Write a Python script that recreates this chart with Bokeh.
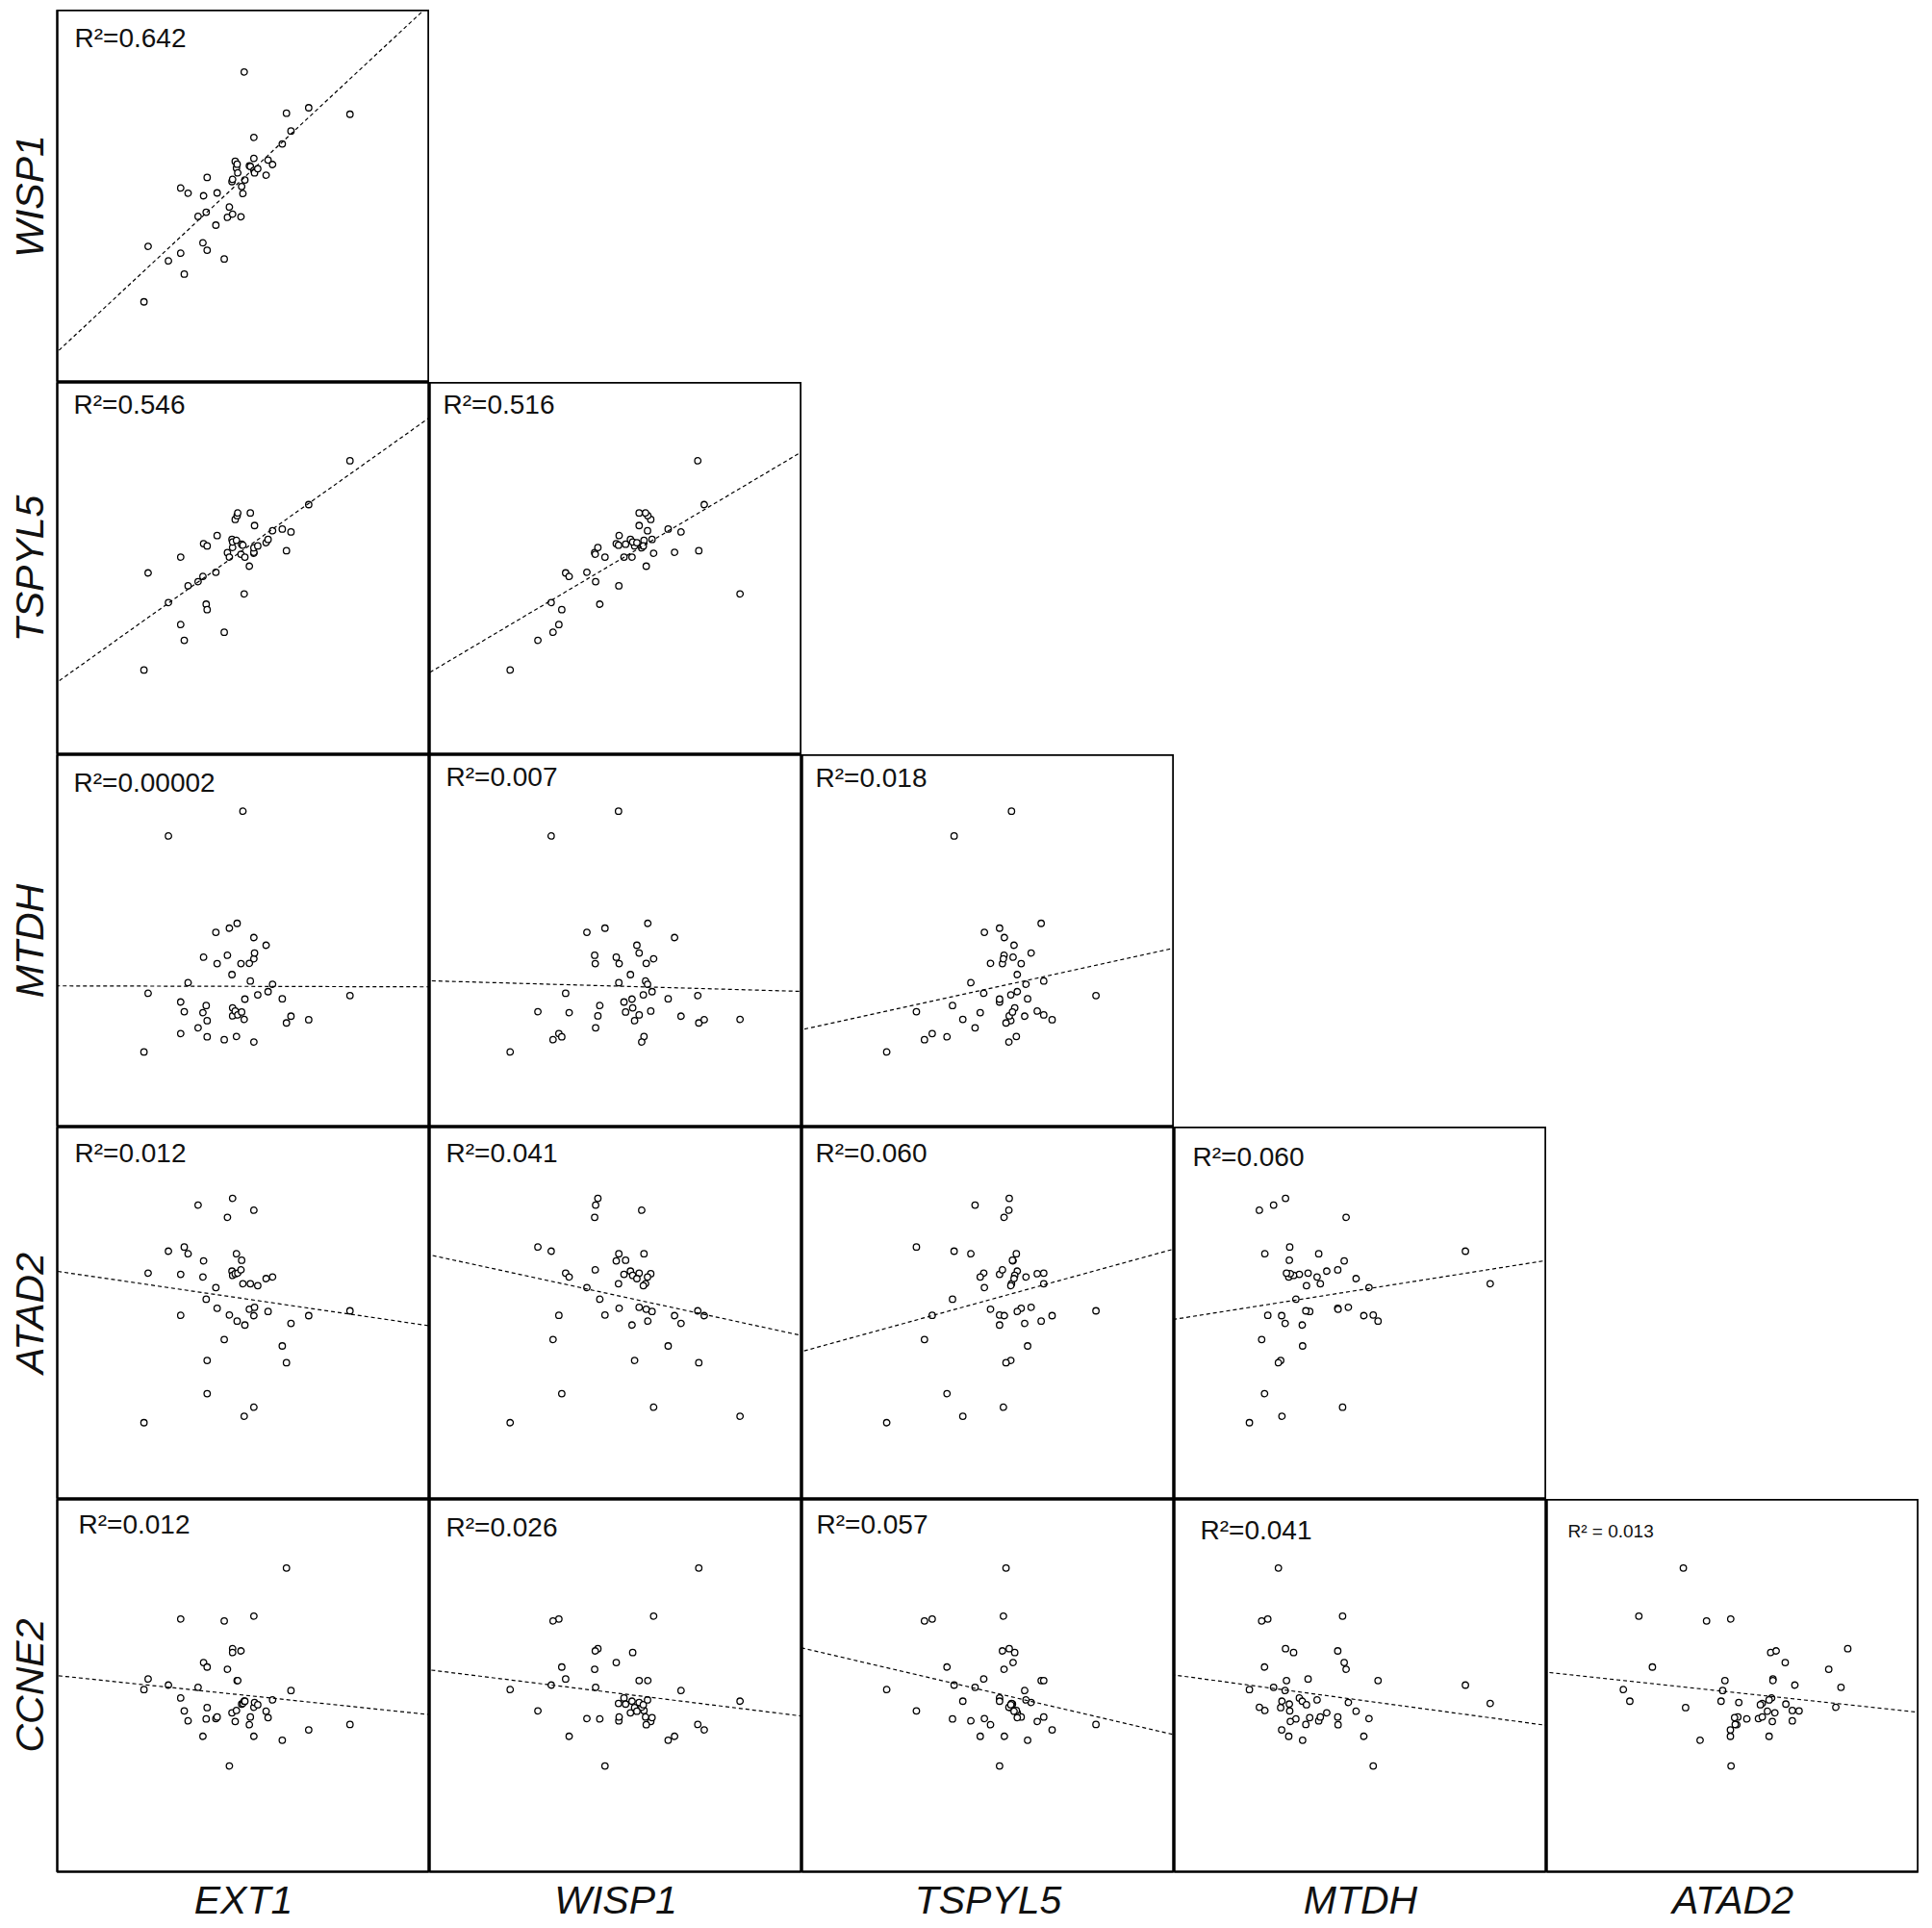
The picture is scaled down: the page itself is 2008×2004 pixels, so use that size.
import numpy as np
from bokeh.plotting import figure
from bokeh.layouts import gridplot, column, row
from bokeh.models import Range1d, Slope, Label, LinearAxis, FixedTicker, Spacer
from bokeh.embed import file_html
from bokeh.resources import INLINE

genes = ["EXT1", "WISP1", "TSPYL5", "MTDH", "ATAD2", "CCNE2"]

EXT1 = [2.69, 2.82, 3.45, 3.83, 3.83, 3.94, 4.06, 4.37, 4.52, 4.54, 4.62, 4.65, 4.65, 4.92, 4.96,
        5.18, 5.28, 5.34, 5.44, 5.42, 5.44, 5.52, 5.56, 5.58, 5.60, 5.70, 5.72, 5.76, 5.80, 5.82,
        6.10, 6.10, 5.96, 5.99, 6.10, 6.12, 6.22, 6.48, 6.54, 6.68, 6.98, 7.11, 7.25, 7.80, 9.08]
WISP1 = [2.50, 4.22, 3.77, 6.03, 4.01, 3.36, 5.87, 5.15, 4.33, 5.79, 5.28, 6.36, 4.10, 4.88, 5.88,
         3.83, 5.12, 5.44, 5.22, 6.23, 6.30, 6.86, 6.65, 6.77, 6.50, 5.14, 6.08, 5.86, 9.63, 6.28,
         6.95, 7.60, 6.72, 6.70, 6.58, 6.50, 6.63, 6.43, 6.90, 6.76, 7.40, 8.35, 7.80, 8.52, 8.32]
TSPYL5 = [2.63, 5.64, 4.72, 6.13, 4.04, 3.55, 5.24, 5.37, 5.53, 6.55, 4.67, 6.48, 4.50, 5.66, 6.80,
          3.80, 6.27, 6.13, 6.43, 6.68, 6.60, 7.30, 6.65, 7.42, 7.50, 6.22, 6.53, 6.50, 4.99, 6.13,
          6.25, 6.28, 5.85, 7.50, 6.42, 7.11, 6.48, 6.58, 6.68, 6.95, 7.00, 6.33, 6.91, 7.76, 9.12]
MTDH = [2.33, 4.15, 9.03, 3.88, 2.90, 3.58, 4.48, 3.08, 3.55, 5.27, 3.77, 3.30, 2.80, 6.04, 5.07,
        2.71, 5.33, 6.17, 3.45, 4.73, 3.70, 3.60, 2.81, 6.32, 3.48, 5.07, 3.57, 9.80, 3.34, 3.97,
        5.22, 5.88, 5.08, 4.53, 2.64, 5.40, 4.10, 5.64, 4.20, 4.43, 3.98, 3.23, 3.44, 3.33, 4.08]
ATAD2 = [2.38, 7.02, 7.70, 6.98, 5.71, 7.83, 7.62, 9.13, 6.90, 7.40, 6.21, 4.31, 3.28, 6.57, 5.93,
         4.96, 8.75, 5.72, 9.34, 7.08, 6.95, 7.00, 7.62, 5.53, 7.02, 7.12, 7.42, 6.69, 2.58, 5.41,
         2.86, 5.70, 5.90, 6.69, 8.97, 5.96, 6.63, 6.85, 5.83, 6.90, 4.76, 4.24, 5.46, 5.70, 5.85]
CCNE2 = [5.65, 5.98, 5.79, 5.39, 7.84, 4.99, 4.68, 5.72, 4.20, 6.49, 4.74, 5.09, 6.35, 4.75, 4.80,
         7.78, 6.28, 3.28, 6.92, 4.93, 6.80, 4.66, 5.00, 5.93, 5.93, 6.85, 5.20, 5.22, 5.29, 5.29,
         7.93, 4.20, 4.56, 4.80, 5.10, 5.25, 5.18, 4.98, 4.78, 5.33, 4.08, 9.42, 5.62, 4.40, 4.57]

r2_text = {
    (1, 0): "R\u00b2=0.642",
    (2, 0): "R\u00b2=0.546", (2, 1): "R\u00b2=0.516",
    (3, 0): "R\u00b2=0.00002", (3, 1): "R\u00b2=0.007", (3, 2): "R\u00b2=0.018",
    (4, 0): "R\u00b2=0.012", (4, 1): "R\u00b2=0.041", (4, 2): "R\u00b2=0.060", (4, 3): "R\u00b2=0.060",
    (5, 0): "R\u00b2=0.012", (5, 1): "R\u00b2=0.026", (5, 2): "R\u00b2=0.057", (5, 3): "R\u00b2=0.041",
    (5, 4): "R\u00b2 = 0.013",
}

data = {"EXT1": EXT1, "WISP1": WISP1, "TSPYL5": TSPYL5, "MTDH": MTDH, "ATAD2": ATAD2, "CCNE2": CCNE2}

# label placement (pixels from panel's left / top edge)
lab_dx = {(1, 0): 18, (2, 0): 17, (2, 1): 14, (3, 0): 17, (3, 1): 17, (3, 2): 14,
          (4, 0): 18, (4, 1): 17, (4, 2): 14, (4, 3): 19,
          (5, 0): 22, (5, 1): 17, (5, 2): 15, (5, 3): 27, (5, 4): 22}
lab_dy = {(1, 0): 29, (2, 0): 23, (2, 1): 23, (3, 0): 29, (3, 1): 23, (3, 2): 24,
          (4, 0): 27, (4, 1): 27, (4, 2): 27, (4, 3): 31,
          (5, 0): 26, (5, 1): 29, (5, 2): 26, (5, 3): 32, (5, 4): 33}

PANEL = 387
LO, HI = 0.0, 11.55
LABEL_FONT = "Liberation Sans"


def label_axis(text):
    return LinearAxis(ticker=FixedTicker(ticks=[]), axis_label=text,
                      axis_line_color=None, major_tick_line_color=None,
                      minor_tick_line_color=None, major_label_text_font_size="0px",
                      major_tick_out=0, major_tick_in=0, minor_tick_out=0, minor_tick_in=0,
                      major_label_standoff=0, axis_label_standoff=6,
                      axis_label_text_font=LABEL_FONT, axis_label_text_font_style="italic",
                      axis_label_text_font_size="41px", axis_label_text_color="#111111")


def make_panel(i, j):
    left = (j == 0)
    bottom = (i == 5)
    p = figure(frame_width=PANEL, frame_height=PANEL,
               x_range=Range1d(LO, HI), y_range=Range1d(LO, HI),
               x_axis_location=None, y_axis_location=None,
               toolbar_location=None, output_backend="svg",
               min_border_left=0, min_border_right=0,
               min_border_top=0, min_border_bottom=0,
               background_fill_color="white", border_fill_color="white")
    p.grid.grid_line_color = None
    p.outline_line_color = "black"
    p.outline_line_width = 2.5
    xv = np.array(data[genes[j]])
    yv = np.array(data[genes[i]])
    p.scatter(xv, yv, marker="circle", size=6.5, fill_color="white",
              line_color="black", line_width=1.3)
    m, b = np.polyfit(xv, yv, 1)
    p.add_layout(Slope(gradient=m, y_intercept=b, line_color="black",
                       line_dash="4 3", line_width=1.2))
    small = (i, j) == (5, 4)
    p.add_layout(Label(x=lab_dx[(i, j)], y=PANEL - lab_dy[(i, j)],
                       x_units="screen", y_units="screen",
                       text=r2_text[(i, j)], text_font="Liberation Sans",
                       text_font_size="19px" if small else "28px",
                       text_baseline="middle", text_color="#111111"))
    if left:
        p.add_layout(label_axis(genes[i]), "left")
    if bottom:
        p.add_layout(label_axis(genes[j]), "below")
    return p


rows = []
for i in range(1, 6):
    r = []
    for j in range(5):
        r.append(make_panel(i, j) if j < i else None)
    rows.append(r)

grid = gridplot(rows, toolbar_location=None)
layout = column(Spacer(height=10), row(Spacer(width=4), grid))

open("out.html", "w").write(file_html(layout, INLINE))
